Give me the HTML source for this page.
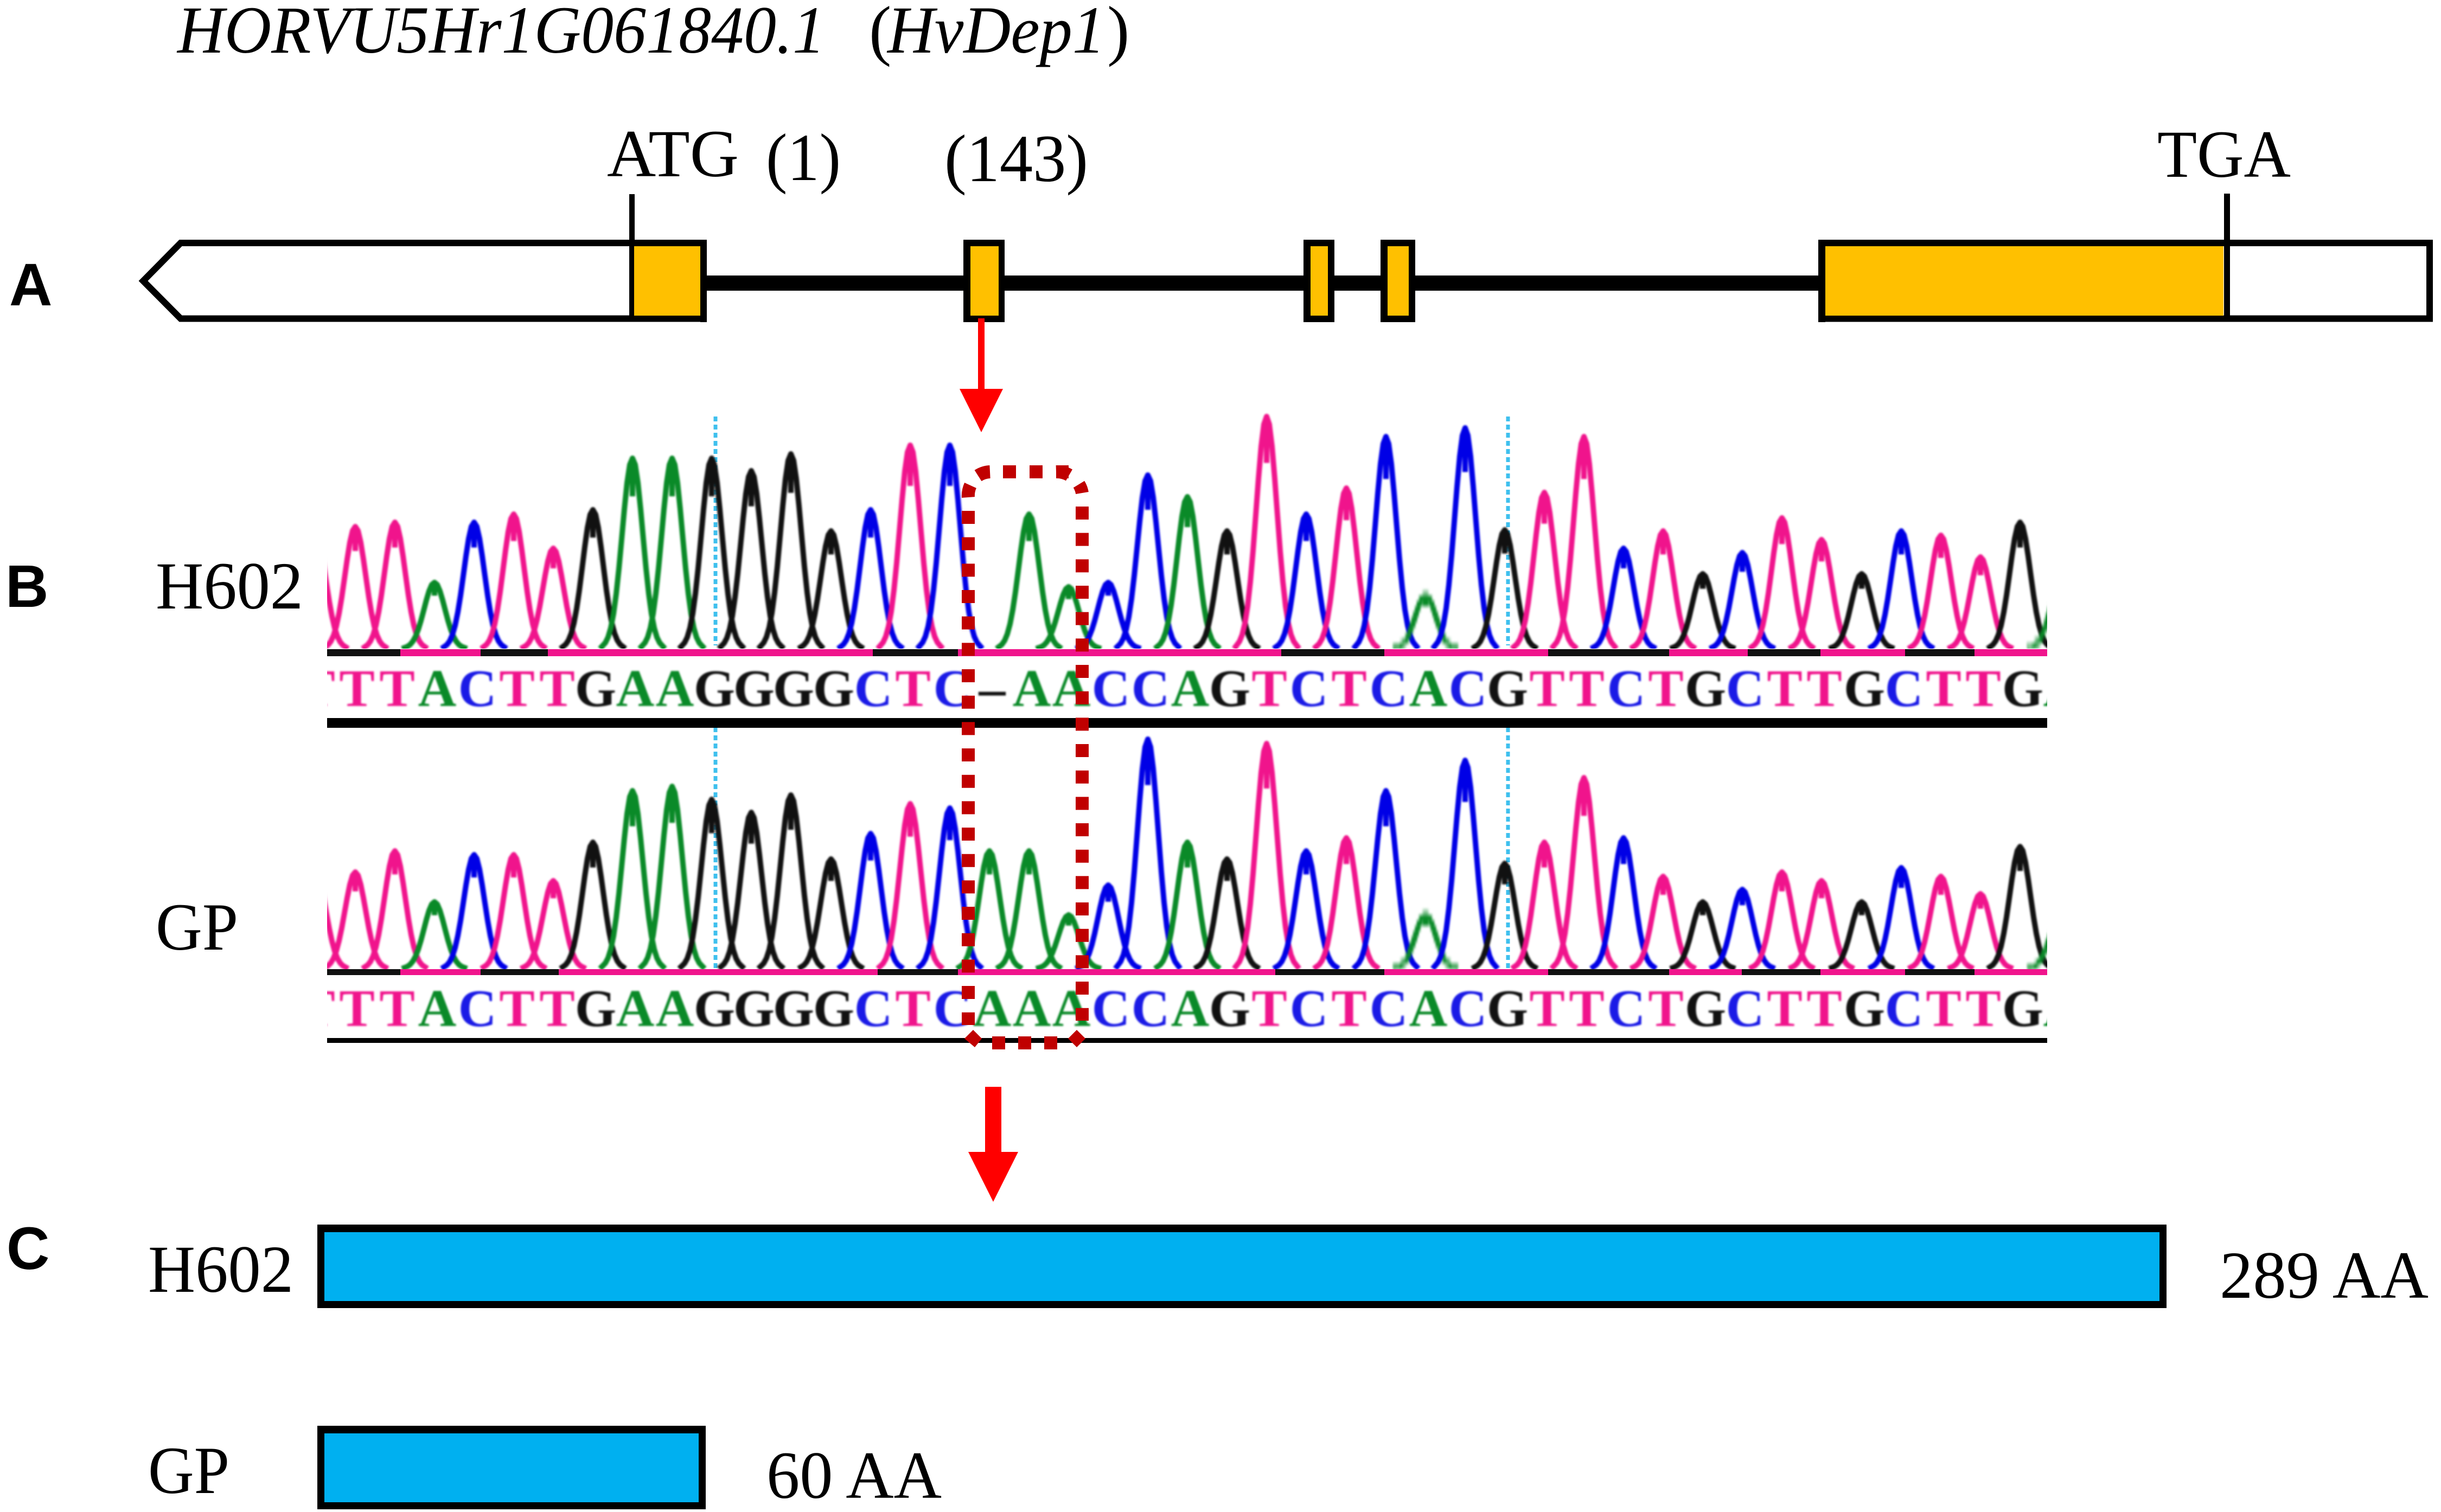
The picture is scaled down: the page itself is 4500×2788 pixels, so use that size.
<!DOCTYPE html>
<html><head><meta charset="utf-8"><style>
html,body{margin:0;padding:0;background:#fff;width:4500px;height:2788px;overflow:hidden}
svg{display:block}
text{font-family:"Liberation Serif",serif;fill:#000}
.s{font-size:124px}
.i{font-style:italic}
.p{font-family:"Liberation Sans",sans-serif;font-weight:bold;font-size:110px}
.t{stroke:#f0148c}.c{stroke:#0000e6}.a{stroke:#0a8a28}.g{stroke:#111}
.l text{font-size:98px;font-weight:bold;text-anchor:middle}
.l .T{fill:#f0148c}.l .C{fill:#1a1ae6}.l .A{fill:#0a8a28}.l .G{fill:#111}
.b{filter:blur(1.5px)}
</style></head><body>
<svg width="4500" height="2788" viewBox="0 0 4500 2788" xmlns="http://www.w3.org/2000/svg">
<defs>
<path id="p" vector-effect="non-scaling-stroke" fill="none" stroke-width="10" stroke-linejoin="round" d="M-60,0 L-55,-.015 L-50,-.031 L-45,-.06 L-40,-.109 L-35,-.183 L-30,-.288 L-25,-.421 L-20,-.575 L-15,-.732 L-10,-.871 L-5,-.966 L0,-1 L5,-.966 L10,-.871 L15,-.732 L20,-.575 L25,-.421 L30,-.288 L35,-.183 L40,-.109 L45,-.06 L50,-.031 L55,-.015 L60,0 M0,-1 L0,-.8"/>
<clipPath id="c1"><rect x="603" y="700" width="3171" height="496"/></clipPath>
<clipPath id="c2"><rect x="603" y="1300" width="3171" height="487"/></clipPath>
<clipPath id="c3"><rect x="603" y="1212" width="3171" height="110"/></clipPath>
<clipPath id="c4"><rect x="603" y="1800" width="3171" height="110"/></clipPath>
</defs>

<!-- Title -->
<text class="s i" x="327" y="97" textLength="1194" lengthAdjust="spacingAndGlyphs">HORVU5Hr1G061840.1</text>
<text class="s" x="1602" y="97">(</text>
<text class="s i" x="1636" y="97" textLength="401" lengthAdjust="spacingAndGlyphs">HvDep1</text>
<text class="s" x="2041" y="97">)</text>

<text class="s" x="1119" y="325" textLength="243" lengthAdjust="spacingAndGlyphs">ATG</text>
<text class="s" x="1412" y="332" textLength="138" lengthAdjust="spacingAndGlyphs">(1)</text>
<text class="s" x="1741" y="334" textLength="265" lengthAdjust="spacingAndGlyphs">(143)</text>
<text class="s" x="3977" y="326" textLength="246" lengthAdjust="spacingAndGlyphs">TGA</text>

<text class="p" x="17" y="563">A</text>
<text class="p" x="10" y="1119">B</text>
<text class="p" x="12" y="2340">C</text>

<!-- Gene model -->
<rect x="1295" y="508" width="2065" height="28" fill="#000"/>
<path d="M333,448 H4479 V587.5 H333 L264,518 Z" fill="#fff" stroke="#000" stroke-width="12" stroke-linejoin="miter"/>
<rect x="1169" y="454" width="122" height="128" fill="#FFC000"/>
<rect x="1291" y="442" width="12" height="152" fill="#000"/>
<rect x="1303" y="430" width="2049" height="78" fill="#fff"/>
<rect x="1303" y="536" width="2049" height="70" fill="#fff"/>
<rect x="1303" y="508" width="2049" height="28" fill="#000"/>
<rect x="1776" y="442" width="76" height="152" fill="#000"/>
<rect x="1789" y="454" width="52" height="128" fill="#FFC000"/>
<rect x="2403" y="442" width="57" height="152" fill="#000"/>
<rect x="2416" y="454" width="32" height="128" fill="#FFC000"/>
<rect x="2545" y="442" width="64" height="152" fill="#000"/>
<rect x="2558" y="454" width="39" height="128" fill="#FFC000"/>
<rect x="3352" y="442" width="13" height="152" fill="#000"/>
<rect x="3365" y="454" width="734" height="128" fill="#FFC000"/>
<rect x="1160" y="358" width="10" height="96" fill="#000"/>
<rect x="1160" y="442" width="9" height="150" fill="#000"/>
<rect x="4100" y="357" width="11" height="235" fill="#000"/>

<!-- Thin arrow -->
<rect x="1803" y="587" width="12" height="132" fill="#f00"/>
<polygon points="1769,717 1849,717 1809,797" fill="#f00"/>

<!-- Dotted cyan -->
<g stroke="#3fc0ee" stroke-width="7" stroke-dasharray="9 6" fill="none">
<path d="M1319,768 V1190 M1319,1341 V1785 M2780,768 V1190 M2780,1341 V1785"/>
</g>

<!-- H602 baseline -->
<rect x="603" y="1197" width="3171" height="13" fill="#f0148c"/>
<g fill="#111"><rect x="603" y="1197" width="135" height="13"/><rect x="886" y="1197" width="124" height="13"/><rect x="1609" y="1197" width="157" height="13"/><rect x="2362" y="1197" width="190" height="13"/><rect x="2854" y="1197" width="223" height="13"/><rect x="3222" y="1197" width="134" height="13"/><rect x="3512" y="1197" width="128" height="13"/></g>
<!-- GP baseline -->
<rect x="603" y="1787" width="3171" height="11" fill="#f0148c"/>
<g fill="#111"><rect x="603" y="1787" width="135" height="11"/><rect x="886" y="1787" width="144" height="11"/><rect x="1618" y="1787" width="148" height="11"/><rect x="2351" y="1787" width="201" height="11"/><rect x="2854" y="1787" width="223" height="11"/><rect x="3211" y="1787" width="145" height="11"/><rect x="3512" y="1787" width="128" height="11"/></g>

<!-- H602 trace -->
<g clip-path="url(#c1)"><g class="b">
<use href="#p" class="t" transform="translate(582,1196) scale(1,207)"/>
<use href="#p" class="t" transform="translate(655,1196) scale(1,225)"/>
<use href="#p" class="t" transform="translate(728,1196) scale(1,233)"/>
<use href="#p" class="a" transform="translate(801,1196) scale(1,122)"/>
<use href="#p" class="c" transform="translate(874,1196) scale(1,233)"/>
<use href="#p" class="t" transform="translate(947,1196) scale(1,248)"/>
<use href="#p" class="t" transform="translate(1020,1196) scale(1,185)"/>
<use href="#p" class="g" transform="translate(1093,1196) scale(1,256)"/>
<use href="#p" class="a" transform="translate(1166,1196) scale(1,351)"/>
<use href="#p" class="a" transform="translate(1239,1196) scale(1,351)"/>
<use href="#p" class="g" transform="translate(1312,1196) scale(1,351)"/>
<use href="#p" class="g" transform="translate(1385,1196) scale(1,328)"/>
<use href="#p" class="g" transform="translate(1458,1196) scale(1,359)"/>
<use href="#p" class="g" transform="translate(1532,1196) scale(1,217)"/>
<use href="#p" class="c" transform="translate(1605,1196) scale(1,256)"/>
<use href="#p" class="t" transform="translate(1678,1196) scale(1,375)"/>
<use href="#p" class="c" transform="translate(1751,1196) scale(1,375)"/>
<use href="#p" class="a" transform="translate(1897,1196) scale(1,248)"/>
<use href="#p" class="a" transform="translate(1970,1196) scale(1,114)"/>
<use href="#p" class="c" transform="translate(2043,1196) scale(1,122)"/>
<use href="#p" class="c" transform="translate(2116,1196) scale(1,320)"/>
<use href="#p" class="a" transform="translate(2189,1196) scale(1,280)"/>
<use href="#p" class="g" transform="translate(2262,1196) scale(1,217)"/>
<use href="#p" class="t" transform="translate(2335,1196) scale(1,428)"/>
<use href="#p" class="c" transform="translate(2408,1196) scale(1,248)"/>
<use href="#p" class="t" transform="translate(2482,1196) scale(1,296)"/>
<use href="#p" class="c" transform="translate(2555,1196) scale(1,391)"/>
<use href="#p" class="a" transform="translate(2628,1196) scale(1,98)"/>
<use href="#p" class="c" transform="translate(2701,1196) scale(1,407)"/>
<use href="#p" class="g" transform="translate(2774,1196) scale(1,219)"/>
<use href="#p" class="t" transform="translate(2847,1196) scale(1,288)"/>
<use href="#p" class="t" transform="translate(2920,1196) scale(1,391)"/>
<use href="#p" class="c" transform="translate(2993,1196) scale(1,185)"/>
<use href="#p" class="t" transform="translate(3066,1196) scale(1,217)"/>
<use href="#p" class="g" transform="translate(3139,1196) scale(1,138)"/>
<use href="#p" class="c" transform="translate(3212,1196) scale(1,177)"/>
<use href="#p" class="t" transform="translate(3285,1196) scale(1,241)"/>
<use href="#p" class="t" transform="translate(3358,1196) scale(1,201)"/>
<use href="#p" class="g" transform="translate(3432,1196) scale(1,138)"/>
<use href="#p" class="c" transform="translate(3505,1196) scale(1,217)"/>
<use href="#p" class="t" transform="translate(3578,1196) scale(1,209)"/>
<use href="#p" class="t" transform="translate(3651,1196) scale(1,169)"/>
<use href="#p" class="g" transform="translate(3724,1196) scale(1,233)"/>
<use href="#p" class="a" transform="translate(3797,1196) scale(1,108)"/>
</g></g>

<!-- GP trace -->
<g clip-path="url(#c2)"><g class="b">
<use href="#p" class="t" transform="translate(582,1786) scale(1,175)"/>
<use href="#p" class="t" transform="translate(655,1786) scale(1,178)"/>
<use href="#p" class="t" transform="translate(728,1786) scale(1,217)"/>
<use href="#p" class="a" transform="translate(801,1786) scale(1,123)"/>
<use href="#p" class="c" transform="translate(874,1786) scale(1,210)"/>
<use href="#p" class="t" transform="translate(947,1786) scale(1,210)"/>
<use href="#p" class="t" transform="translate(1020,1786) scale(1,162)"/>
<use href="#p" class="g" transform="translate(1093,1786) scale(1,233)"/>
<use href="#p" class="a" transform="translate(1166,1786) scale(1,328)"/>
<use href="#p" class="a" transform="translate(1239,1786) scale(1,336)"/>
<use href="#p" class="g" transform="translate(1312,1786) scale(1,312)"/>
<use href="#p" class="g" transform="translate(1385,1786) scale(1,288)"/>
<use href="#p" class="g" transform="translate(1458,1786) scale(1,320)"/>
<use href="#p" class="g" transform="translate(1532,1786) scale(1,202)"/>
<use href="#p" class="c" transform="translate(1605,1786) scale(1,249)"/>
<use href="#p" class="t" transform="translate(1678,1786) scale(1,304)"/>
<use href="#p" class="c" transform="translate(1751,1786) scale(1,296)"/>
<use href="#p" class="a" transform="translate(1824,1786) scale(1,217)"/>
<use href="#p" class="a" transform="translate(1897,1786) scale(1,217)"/>
<use href="#p" class="a" transform="translate(1970,1786) scale(1,99)"/>
<use href="#p" class="c" transform="translate(2043,1786) scale(1,154)"/>
<use href="#p" class="c" transform="translate(2116,1786) scale(1,423)"/>
<use href="#p" class="a" transform="translate(2189,1786) scale(1,233)"/>
<use href="#p" class="g" transform="translate(2262,1786) scale(1,202)"/>
<use href="#p" class="t" transform="translate(2335,1786) scale(1,415)"/>
<use href="#p" class="c" transform="translate(2408,1786) scale(1,217)"/>
<use href="#p" class="t" transform="translate(2482,1786) scale(1,241)"/>
<use href="#p" class="c" transform="translate(2555,1786) scale(1,328)"/>
<use href="#p" class="a" transform="translate(2628,1786) scale(1,99)"/>
<use href="#p" class="c" transform="translate(2701,1786) scale(1,384)"/>
<use href="#p" class="g" transform="translate(2774,1786) scale(1,194)"/>
<use href="#p" class="t" transform="translate(2847,1786) scale(1,233)"/>
<use href="#p" class="t" transform="translate(2920,1786) scale(1,352)"/>
<use href="#p" class="c" transform="translate(2993,1786) scale(1,241)"/>
<use href="#p" class="t" transform="translate(3066,1786) scale(1,170)"/>
<use href="#p" class="g" transform="translate(3139,1786) scale(1,123)"/>
<use href="#p" class="c" transform="translate(3212,1786) scale(1,146)"/>
<use href="#p" class="t" transform="translate(3285,1786) scale(1,178)"/>
<use href="#p" class="t" transform="translate(3358,1786) scale(1,162)"/>
<use href="#p" class="g" transform="translate(3432,1786) scale(1,123)"/>
<use href="#p" class="c" transform="translate(3505,1786) scale(1,186)"/>
<use href="#p" class="t" transform="translate(3578,1786) scale(1,170)"/>
<use href="#p" class="t" transform="translate(3651,1786) scale(1,138)"/>
<use href="#p" class="g" transform="translate(3724,1786) scale(1,225)"/>
<use href="#p" class="a" transform="translate(3797,1786) scale(1,91)"/>
</g></g>

<!-- H602 sequence -->
<g clip-path="url(#c3)"><g class="l b">
<text class="T" x="585" y="1302">T</text><text class="T" x="658" y="1302">T</text><text class="T" x="732" y="1302">T</text><text class="A" x="806" y="1302">A</text><text class="C" x="880" y="1302">C</text><text class="T" x="953" y="1302">T</text><text class="T" x="1027" y="1302">T</text><text class="G" x="1098" y="1302">G</text><text class="A" x="1171" y="1302">A</text><text class="A" x="1244" y="1302">A</text><text class="G" x="1317" y="1302">G</text><text class="G" x="1390" y="1302">G</text><text class="G" x="1463" y="1302">G</text><text class="G" x="1537" y="1302">G</text><text class="C" x="1610" y="1302">C</text><text class="T" x="1683" y="1302">T</text><text class="C" x="1756" y="1302">C</text><text class="G" x="1829" y="1302">–</text><text class="A" x="1902" y="1302">A</text><text class="A" x="1975" y="1302">A</text><text class="C" x="2048" y="1302">C</text><text class="C" x="2121" y="1302">C</text><text class="A" x="2194" y="1302">A</text><text class="G" x="2267" y="1302">G</text><text class="T" x="2340" y="1302">T</text><text class="C" x="2413" y="1302">C</text><text class="T" x="2487" y="1302">T</text><text class="C" x="2560" y="1302">C</text><text class="A" x="2633" y="1302">A</text><text class="C" x="2706" y="1302">C</text><text class="G" x="2779" y="1302">G</text><text class="T" x="2852" y="1302">T</text><text class="T" x="2925" y="1302">T</text><text class="C" x="2998" y="1302">C</text><text class="T" x="3071" y="1302">T</text><text class="G" x="3144" y="1302">G</text><text class="C" x="3217" y="1302">C</text><text class="T" x="3290" y="1302">T</text><text class="T" x="3363" y="1302">T</text><text class="G" x="3437" y="1302">G</text><text class="C" x="3510" y="1302">C</text><text class="T" x="3583" y="1302">T</text><text class="T" x="3656" y="1302">T</text><text class="G" x="3729" y="1302">G</text><text class="A" x="3802" y="1302">A</text>
</g></g>
<rect x="603" y="1324" width="3171" height="18" fill="#000"/>

<!-- GP sequence -->
<g clip-path="url(#c4)"><g class="l b">
<text class="T" x="585" y="1892">T</text><text class="T" x="658" y="1892">T</text><text class="T" x="732" y="1892">T</text><text class="A" x="806" y="1892">A</text><text class="C" x="880" y="1892">C</text><text class="T" x="953" y="1892">T</text><text class="T" x="1027" y="1892">T</text><text class="G" x="1098" y="1892">G</text><text class="A" x="1171" y="1892">A</text><text class="A" x="1244" y="1892">A</text><text class="G" x="1317" y="1892">G</text><text class="G" x="1390" y="1892">G</text><text class="G" x="1463" y="1892">G</text><text class="G" x="1537" y="1892">G</text><text class="C" x="1610" y="1892">C</text><text class="T" x="1683" y="1892">T</text><text class="C" x="1756" y="1892">C</text><text class="A" x="1829" y="1892">A</text><text class="A" x="1902" y="1892">A</text><text class="A" x="1975" y="1892">A</text><text class="C" x="2048" y="1892">C</text><text class="C" x="2121" y="1892">C</text><text class="A" x="2194" y="1892">A</text><text class="G" x="2267" y="1892">G</text><text class="T" x="2340" y="1892">T</text><text class="C" x="2413" y="1892">C</text><text class="T" x="2487" y="1892">T</text><text class="C" x="2560" y="1892">C</text><text class="A" x="2633" y="1892">A</text><text class="C" x="2706" y="1892">C</text><text class="G" x="2779" y="1892">G</text><text class="T" x="2852" y="1892">T</text><text class="T" x="2925" y="1892">T</text><text class="C" x="2998" y="1892">C</text><text class="T" x="3071" y="1892">T</text><text class="G" x="3144" y="1892">G</text><text class="C" x="3217" y="1892">C</text><text class="T" x="3290" y="1892">T</text><text class="T" x="3363" y="1892">T</text><text class="G" x="3437" y="1892">G</text><text class="C" x="3510" y="1892">C</text><text class="T" x="3583" y="1892">T</text><text class="T" x="3656" y="1892">T</text><text class="G" x="3729" y="1892">G</text><text class="A" x="3802" y="1892">A</text>
</g></g>
<rect x="603" y="1914" width="3171" height="9" fill="#000"/>

<!-- Red dotted box -->
<g stroke="#c00000" stroke-width="24" fill="none">
<path d="M1849,870 H1970" stroke-dasharray="24 25"/>
<path d="M1825,870 A45,45 0 0 0 1803,877"/>
<path d="M1947,870 A45,45 0 0 1 1971,876" />
<path d="M1785,917 A45,45 0 0 1 1789,895"/>
<path d="M1995,909 A45,45 0 0 0 1989,893"/>
<path d="M1785,942 V1890" stroke-dasharray="24 24.67"/>
<path d="M1995,934 V1882" stroke-dasharray="24 24.67"/>
<path d="M1829,1923 H1949" stroke-dasharray="24 24"/>
</g>
<polygon points="1794,1899 1810,1915 1797,1931 1778,1915" fill="#c00000"/>
<polygon points="1985,1899 2001,1915 1985,1931 1969,1915" fill="#c00000"/>

<text class="s" x="287" y="1122" textLength="272" lengthAdjust="spacingAndGlyphs">H602</text>
<text class="s" x="287" y="1751" textLength="152" lengthAdjust="spacingAndGlyphs">GP</text>

<!-- Big arrow -->
<rect x="1816" y="2004" width="30" height="122" fill="#f00"/>
<polygon points="1785,2124 1877,2124 1831,2216" fill="#f00"/>

<!-- Protein bars -->
<rect x="585" y="2258" width="3409" height="154" fill="#000"/>
<rect x="598" y="2272" width="3383" height="127" fill="#00B0F0"/>
<rect x="585" y="2629" width="716" height="154" fill="#000"/>
<rect x="598" y="2643" width="690" height="127" fill="#00B0F0"/>

<text class="s" x="273" y="2382" textLength="268" lengthAdjust="spacingAndGlyphs">H602</text>
<text class="s" x="273" y="2753" textLength="150" lengthAdjust="spacingAndGlyphs">GP</text>
<text class="s" x="4092" y="2393" textLength="385" lengthAdjust="spacingAndGlyphs">289 AA</text>
<text class="s" x="1413" y="2762" textLength="323" lengthAdjust="spacingAndGlyphs">60 AA</text>
</svg>
</body></html>
